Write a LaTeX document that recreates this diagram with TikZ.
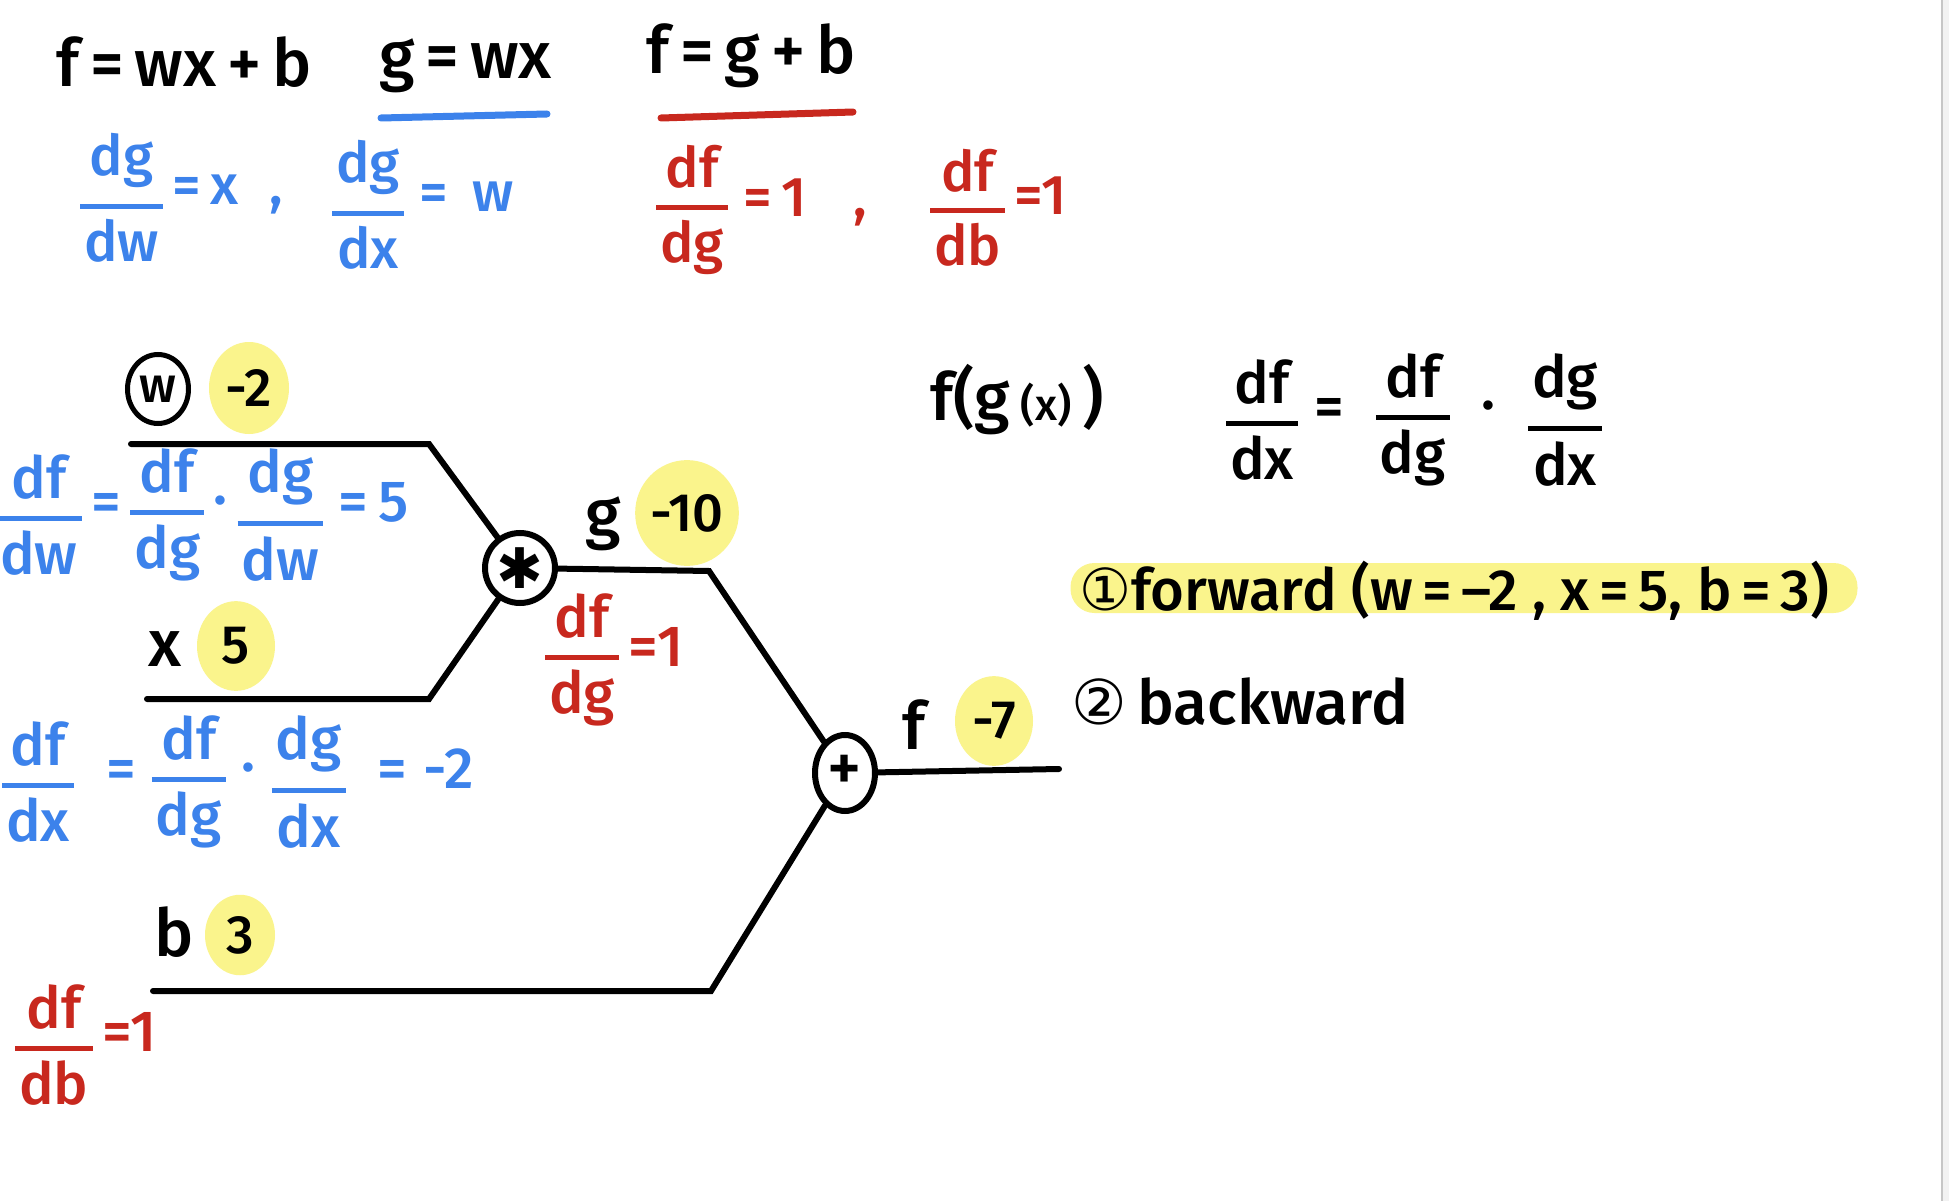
\documentclass[tikz,border=0pt]{standalone}
\usepackage{fontspec}
\setmainfont{Fira Sans}[UprightFont={* Medium}]
\newfontfamily\dejavu{DejaVu Sans}
\usetikzlibrary{shapes.geometric}
\definecolor{inkblue}{RGB}{60,130,235}
\definecolor{inkred}{RGB}{200,40,30}
\definecolor{hl}{RGB}{250,244,140}
\newcommand\fr[2]{\ensuremath{\vcenter{\halign{\hfil\kern4pt##\kern4pt\hfil\cr #1\cr\noalign{\kern16pt\hrule height 5pt\kern10pt}#2\cr}}}}
\newcommand\md{\raisebox{0.05em}{·}}
\begin{document}
\begin{tikzpicture}[x=1pt,y=-1pt,
  wire/.style={line width=6pt, line join=miter, line cap=round},
  txt/.style={inner sep=0pt, font=\fontsize{#1}{#1}\selectfont},
  txt/.default=60,
  op/.style={draw, line width=6pt, fill=white, inner sep=0pt},
  val/.style={ellipse, fill=hl, inner sep=0pt, minimum width=#1, minimum height=#1*1.15, font=\fontsize{54}{54}\selectfont},
  uline/.style={line width=7pt, line cap=round}
]
\useasboundingbox (0,0) rectangle (1949,1201);
\fill[white] (0,0) rectangle (1949,1201);
\fill[gray!10] (1942,0) rectangle (1949,1201);
\draw[gray!45, line width=2pt] (1942,0) -- (1942,1201);

% top formulas
\node[txt=66, anchor=west] (eqf) at (56,62) {f\,=\,wx\,+\,b};
\node[txt=66, anchor=west] (eqg) at (379,66) {g\,=\,wx};
\node[txt=66, anchor=west] (eqfg) at (646,56) {f\,=\,g\,+\,b};
\draw[uline, inkblue] (381,118) -- (547,114);
\draw[uline, inkred] (661,118) -- (853,112);

\node[txt=56, anchor=west, text=inkblue] (dgdw) at (80,198) {\fr{dg}{dw}\,=\,x\;\;,};
\node[txt=56, anchor=west, text=inkblue] (dgdx) at (332,205) {\fr{dg}{dx}\;=\;\,w};
\node[txt=56, anchor=west, text=inkred] (dfdg) at (656,210) {\fr{df}{dg}\;=\,1\;\;\;,};
\node[txt=56, anchor=west, text=inkred] (dfdb) at (930,208) {\fr{df}{db}\,=1};

% graph
\node[op, circle, minimum size=70pt, font=\fontsize{56}{56}\selectfont\dejavu] (mul) at (520,568) {✱};
\node[op, ellipse, minimum width=60pt, minimum height=76pt, font=\fontsize{66}{66}\selectfont] (add) at (845,773) {+};

\coordinate (w0) at (131,444);
\coordinate (w1) at (429,444);
\coordinate (x0) at (147,699);
\coordinate (x1) at (429,699);
\coordinate (g1) at (709,571);
\coordinate (b0) at (153,991);
\coordinate (b1) at (711,991);
\coordinate (fend) at (1059,769);

\draw[wire] (w0) -- (w1) -- (mul);
\draw[wire] (x0) -- (x1) -- (mul);
\draw[wire] (mul) -- (g1) -- (add);
\draw[wire] (b0) -- (b1) -- (add);
\draw[wire] (add) -- (fend);

% variable labels and values
\node[draw, ellipse, line width=5pt, inner sep=0pt, minimum width=61pt, minimum height=69pt, font=\fontsize{50}{50}\selectfont] (wlab) at (158,389) {w};
\node[val=80pt] (wval) at (249,388) {-2};
\node[txt=66] (glab) at (603,524) {g};
\node[val=92pt] (gval) at (687,513) {-10};
\node[txt=66] (xlab) at (165,649) {x};
\node[val=78pt] (xval) at (236,646) {5};
\node[txt=66] (flab) at (914,725) {f};
\node[val=78pt] (fval) at (994,721) {-7};
\node[txt=66] (blab) at (174,932) {b};
\node[val=70pt] (bval) at (240,935) {3};

% gradients
\node[txt=58, anchor=west, text=inkblue] (gw) at (-4,515) {\fr{df}{dw}\,=\,\fr{df}{dg}\,\md\,\fr{dg}{dw}\;=\,5};
\node[txt=58, anchor=west, text=inkblue] (gx) at (2,782) {\fr{df}{dx}\;\;=\;\fr{df}{dg}\;\md\;\fr{dg}{dx}\;\;=\;-2};
\node[txt=58, anchor=west, text=inkred] (gg) at (545,660) {\fr{df}{dg}\,=1};
\node[txt=58, anchor=west, text=inkred] (gb) at (15,1045) {\fr{df}{db}\,=1};

% right side
\node[txt=66, anchor=west] (fgx) at (930,400) {f(g\,{\fontsize{44}{44}\selectfont(x)}\,)};
\node[txt=58, anchor=west] (chain) at (1226,420) {\fr{df}{dx}\;=\;\;\fr{df}{dg}\;\;\md\;\;\fr{dg}{dx}};
\node[fill=hl, rounded corners=24pt, minimum width=787pt, minimum height=50pt, inner sep=0pt] (fwdhl) at (1464,588) {};
\node[txt=58, anchor=west] (fwd) at (1079,591) {{\dejavu ①}forward (w\,=\,–2 , x\,=\,5, b\,=\,3)};
\node[txt=62, anchor=west] (bwd) at (1071,702) {{\dejavu ②}\,backward};
\end{tikzpicture}
\end{document}
